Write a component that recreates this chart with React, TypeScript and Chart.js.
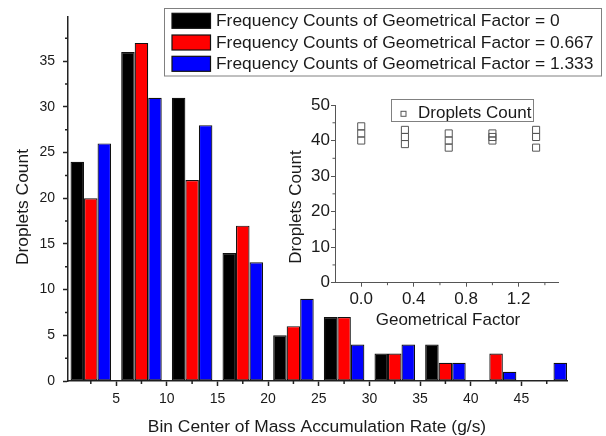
import React, { useEffect, useRef } from "react";
import { Chart, registerables } from "chart.js";

Chart.register(...registerables);

// ---------- Main histogram data ----------
const binCenters = [2.5, 7.5, 12.5, 17.5, 22.5, 27.5, 32.5, 37.5, 42.5, 47.5];
const countsGF0 = [24, 36, 31, 14, 5, 7, 3, 4, 0, 0];
const countsGF0667 = [20, 37, 22, 17, 6, 7, 3, 2, 3, 0];
const countsGF1333 = [26, 31, 28, 13, 9, 4, 4, 2, 1, 2];
const seriesLabels = [
  "Frequency Counts of Geometrical Factor = 0",
  "Frequency Counts of Geometrical Factor = 0.667",
  "Frequency Counts of Geometrical Factor = 1.333",
];
const seriesColors = ["#000000", "#ff0000", "#0000ff"];
const mainXTicks = [5, 10, 15, 20, 25, 30, 35, 40, 45];
const mainXMinorTicks = [2.5, 7.5, 12.5, 17.5, 22.5, 27.5, 32.5, 37.5, 42.5, 47.5];
const mainYTicks = [0, 5, 10, 15, 20, 25, 30, 35];
const mainYMinorTicks = [2.5, 7.5, 12.5, 17.5, 22.5, 27.5, 32.5, 37.5];
const mainXTitle = "Bin Center of Mass Accumulation Rate (g/s)";
const mainYTitle = "Droplets Count";

// ---------- Inset scatter data ----------
const geoFactors = [0, 0.333, 0.667, 1.0, 1.333];
const dropletsRun1 = [44, 43, 42, 42, 43];
const dropletsRun2 = [42, 41, 40, 41, 41];
const dropletsRun3 = [40, 39, 38, 40, 38];
const insetXTicks = [0, 0.4, 0.8, 1.2];
const insetXMinorTicks = [0.2, 0.6, 1.0, 1.4];
const insetYTicks = [0, 10, 20, 30, 40, 50];
const insetYMinorTicks = [5, 15, 25, 35, 45];
const insetLabel = "Droplets Count";
const insetXTitle = "Geometrical Factor";
const insetYTitle = "Droplets Count";

const FONT = "'Liberation Sans', Arial, sans-serif";
const TEXT = "#1a1a1a";
const TITLE_SIZE = 17.4;

function drawMinorTicks(chart: any, xs: number[], ys: number[], len: number, color: string, width: number) {
  const { ctx, chartArea, scales } = chart;
  ctx.save();
  ctx.strokeStyle = color;
  ctx.lineWidth = width;
  ctx.beginPath();
  xs.forEach((v) => {
    const px = scales.x.getPixelForValue(v);
    ctx.moveTo(px, chartArea.bottom);
    ctx.lineTo(px, chartArea.bottom + len);
  });
  ys.forEach((v) => {
    const py = scales.y.getPixelForValue(v);
    ctx.moveTo(chartArea.left, py);
    ctx.lineTo(chartArea.left - len, py);
  });
  ctx.stroke();
  ctx.restore();
}

function drawText(ctx: any, text: string, x: number, y: number, size: number, rot = 0, align = "center") {
  ctx.save();
  ctx.translate(x, y);
  if (rot) ctx.rotate(rot);
  ctx.font = `${size}px ${FONT}`;
  ctx.fillStyle = TEXT;
  ctx.textAlign = align;
  ctx.textBaseline = "alphabetic";
  ctx.fillText(text, 0, 0);
  ctx.restore();
}

const mainDecor = {
  id: "mainDecor",
  afterDraw(chart: any) {
    const ctx = chart.ctx;
    drawMinorTicks(chart, mainXMinorTicks, mainYMinorTicks, 3, "#222", 1.5);
    // axis titles
    drawText(ctx, mainXTitle, 317, 432, TITLE_SIZE);
    drawText(ctx, mainYTitle, 27.5, 207, TITLE_SIZE, -Math.PI / 2);
    // legend
    ctx.save();
    ctx.strokeStyle = "#808080";
    ctx.lineWidth = 1;
    ctx.fillStyle = "#ffffff";
    ctx.fillRect(164.5, 8.5, 437, 67.5);
    ctx.strokeRect(164.5, 8.5, 437, 67.5);
    const rowsY = [20.8, 42.5, 63.8];
    seriesLabels.forEach((lab, i) => {
      ctx.fillStyle = seriesColors[i];
      ctx.fillRect(172, rowsY[i] - 7.5, 38.5, 15);
      ctx.strokeStyle = "#111";
      ctx.lineWidth = 1.2;
      ctx.strokeRect(172, rowsY[i] - 7.5, 38.5, 15);
      ctx.font = `${TITLE_SIZE}px ${FONT}`;
      ctx.fillStyle = TEXT;
      ctx.textAlign = "left";
      ctx.textBaseline = "middle";
      ctx.fillText(lab, 216, rowsY[i] + 0.5);
    });
    ctx.restore();
  },
};

const insetDecor = {
  id: "insetDecor",
  afterDraw(chart: any) {
    const ctx = chart.ctx;
    drawMinorTicks(chart, insetXMinorTicks, insetYMinorTicks, 2.5, "#555", 1);
    // canvas offset: left 280, top 90
    drawText(ctx, insetXTitle, 448 - 280, 324.5 - 90, 17);
    drawText(ctx, insetYTitle, 301 - 280, 207 - 90, 17, -Math.PI / 2);
    // legend
    ctx.save();
    ctx.strokeStyle = "#808080";
    ctx.lineWidth = 1;
    ctx.fillStyle = "#ffffff";
    const bx = 391.5 - 280, by = 99.5 - 90;
    ctx.fillRect(bx, by, 142, 22);
    ctx.strokeRect(bx, by, 142, 22);
    ctx.strokeStyle = "#555";
    ctx.strokeRect(403.5 - 280 - 2.5, 113.8 - 90 - 2.5, 5, 5);
    ctx.font = `17px ${FONT}`;
    ctx.fillStyle = TEXT;
    ctx.textAlign = "left";
    ctx.textBaseline = "alphabetic";
    ctx.fillText(insetLabel, 418 - 280, 117.5 - 90);
    ctx.restore();
  },
};

export default function App() {
  const mainRef = useRef<HTMLCanvasElement>(null);
  const insetRef = useRef<HTMLCanvasElement>(null);

  useEffect(() => {
    const seriesValues = [countsGF0, countsGF0667, countsGF1333];
    const main = new Chart(mainRef.current!, {
      type: "bar",
      data: {
        datasets: seriesValues.map((vals, i) => ({
          label: seriesLabels[i],
          data: binCenters.map((c, j) => ({ x: c, y: vals[j] })),
          backgroundColor: seriesColors[i],
          borderColor: "#111",
          borderWidth: 1.2,
          borderSkipped: false,
          categoryPercentage: 0.8,
          barPercentage: 1.0,
        })),
      },
      options: {
        responsive: false,
        animation: false,
        events: [],
        layout: { padding: { top: 12, right: 39, left: 0, bottom: 0 } },
        plugins: { legend: { display: false }, tooltip: { enabled: false } },
        scales: {
          x: {
            type: "linear",
            min: 0.25,
            max: 49.5,
            offset: false,
            afterBuildTicks: (s: any) => {
              s.ticks = mainXTicks.map((v) => ({ value: v }));
            },
            afterFit: (s: any) => {
              s.height = 55;
            },
            grid: { display: true, drawOnChartArea: false, drawTicks: true, tickLength: 5, tickColor: "#222", tickWidth: 1.5, offset: false },
            border: { display: true, color: "#222", width: 1.5 },
            ticks: {
              autoSkip: false,
              maxRotation: 0,
              padding: 5,
              color: TEXT,
              font: { family: FONT, size: 14 },
              callback: (v: any) => String(v),
            },
          },
          y: {
            type: "linear",
            min: 0,
            max: 39.9,
            afterBuildTicks: (s: any) => {
              s.ticks = mainYTicks.map((v) => ({ value: v }));
            },
            afterFit: (s: any) => {
              s.width = 68;
            },
            grid: { display: true, drawOnChartArea: false, drawTicks: true, tickLength: 5, tickColor: "#222", tickWidth: 1.5 },
            border: { display: true, color: "#222", width: 1.5 },
            ticks: {
              padding: 8,
              color: TEXT,
              font: { family: FONT, size: 14 },
              callback: (v: any) => String(v),
            },
          },
        },
      },
      plugins: [mainDecor],
    } as any);

    const insetPoints: { x: number; y: number }[] = [];
    [dropletsRun1, dropletsRun2, dropletsRun3].forEach((run) => {
      geoFactors.forEach((g, i) => insetPoints.push({ x: g, y: run[i] }));
    });

    const inset = new Chart(insetRef.current!, {
      type: "scatter",
      data: {
        datasets: [
          {
            label: insetLabel,
            data: insetPoints,
            pointStyle: "rect",
            pointRadius: 5,
            borderColor: "#555",
            borderWidth: 1,
            backgroundColor: "rgba(0,0,0,0)",
          },
        ],
      },
      options: {
        responsive: false,
        animation: false,
        events: [],
        layout: { padding: { top: 15, right: 12, left: 0, bottom: 0 } },
        plugins: { legend: { display: false }, tooltip: { enabled: false } },
        scales: {
          x: {
            type: "linear",
            min: -0.2,
            max: 1.5,
            afterBuildTicks: (s: any) => {
              s.ticks = insetXTicks.map((v) => ({ value: v }));
            },
            afterFit: (s: any) => {
              s.height = 52.3;
            },
            grid: { display: true, drawOnChartArea: false, drawTicks: true, tickLength: 4, tickColor: "#555", tickWidth: 1 },
            border: { display: true, color: "#555", width: 1 },
            ticks: {
              autoSkip: false,
              maxRotation: 0,
              padding: 2,
              color: TEXT,
              font: { family: FONT, size: 17 },
              callback: (v: any) => Number(v).toFixed(1),
            },
          },
          y: {
            type: "linear",
            min: 0,
            max: 50,
            afterBuildTicks: (s: any) => {
              s.ticks = insetYTicks.map((v) => ({ value: v }));
            },
            afterFit: (s: any) => {
              s.width = 55;
            },
            grid: { display: true, drawOnChartArea: false, drawTicks: true, tickLength: 4, tickColor: "#555", tickWidth: 1 },
            border: { display: true, color: "#555", width: 1 },
            ticks: {
              padding: 1,
              color: TEXT,
              font: { family: FONT, size: 17 },
              callback: (v: any) => String(v),
            },
          },
        },
      },
      plugins: [insetDecor],
    } as any);

    return () => {
      main.destroy();
      inset.destroy();
    };
  }, []);

  return (
    <div style={{ position: "fixed", left: 0, top: 0, width: 606, height: 436, background: "#fff" }}>
      <canvas ref={mainRef} width={606} height={436} style={{ position: "absolute", left: 0, top: 0, width: 606, height: 436 }} />
      <canvas ref={insetRef} width={290} height={245} style={{ position: "absolute", left: 280, top: 90, width: 290, height: 245 }} />
    </div>
  );
}
